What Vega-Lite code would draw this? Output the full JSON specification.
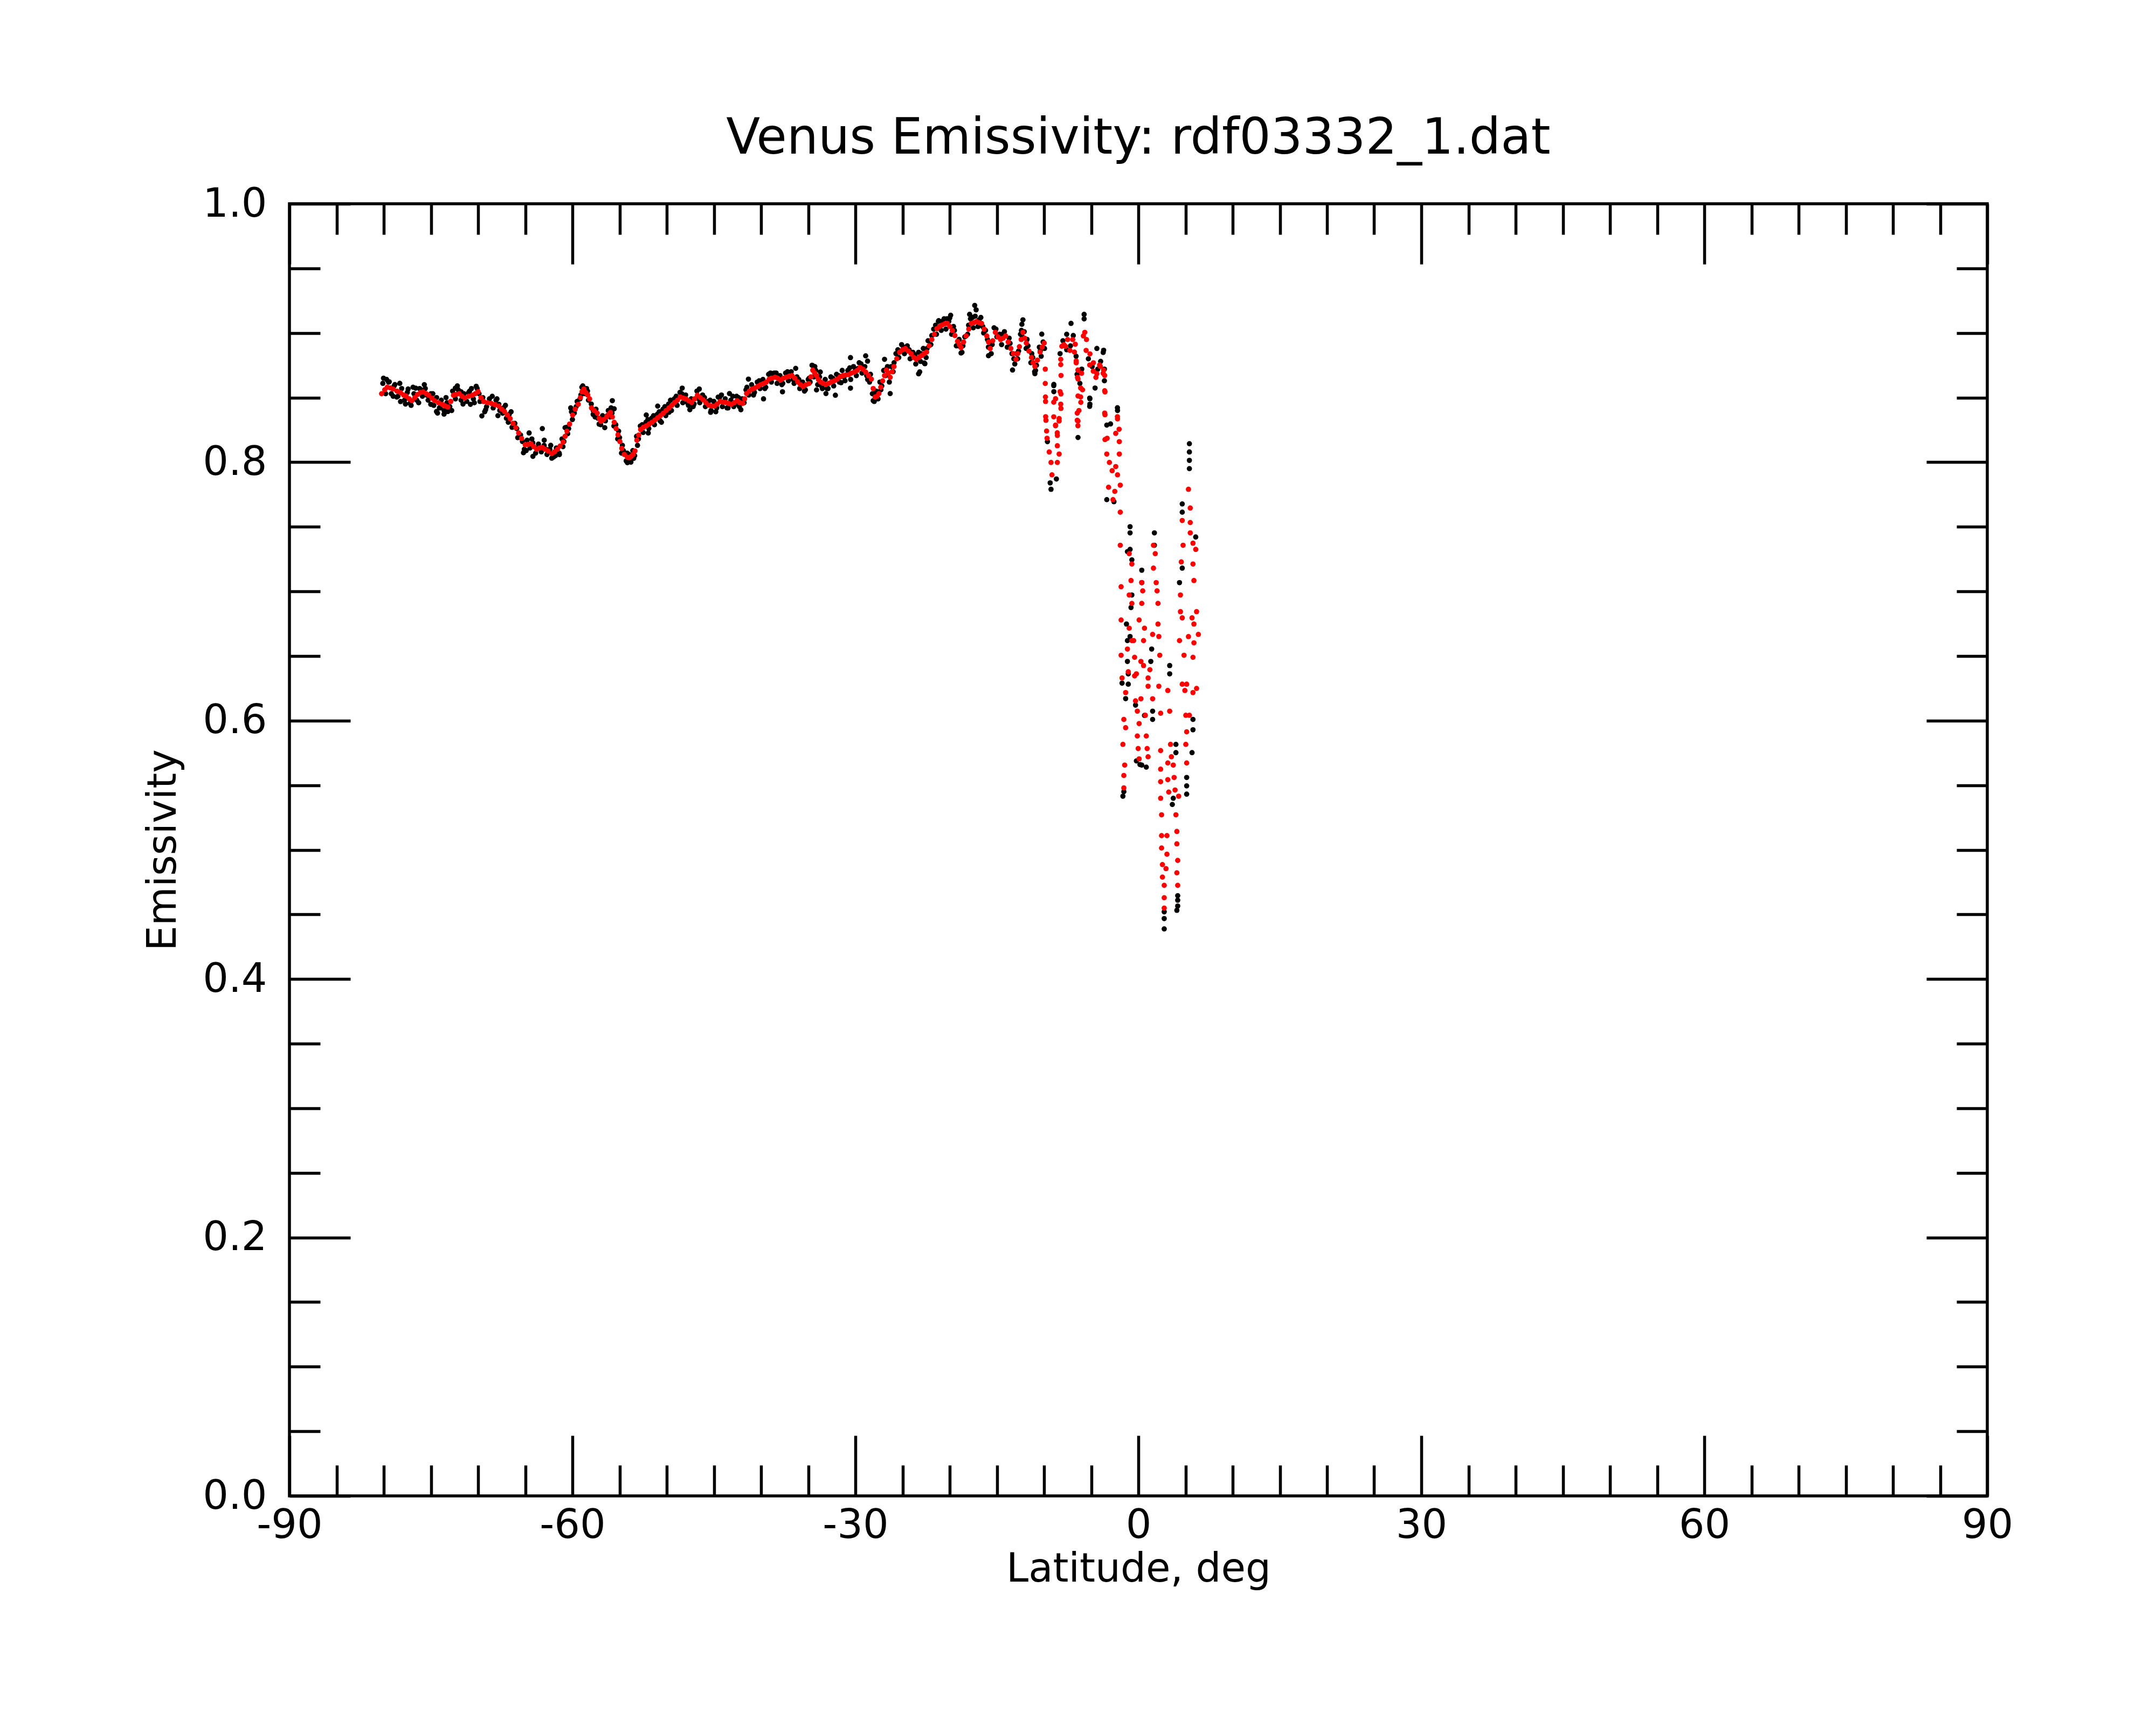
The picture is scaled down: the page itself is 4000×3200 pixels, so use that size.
{
  "$schema": "https://vega.github.io/schema/vega-lite/v6.json",
  "autosize": {"type": "none"},
  "padding": {"left": 537, "top": 378, "right": 313, "bottom": 425},
  "width": 3150,
  "height": 2397,
  "background": "white",
  "title": {
    "text": "Venus Emissivity: rdf03332_1.dat",
    "font": "DejaVu Sans",
    "fontSize": 92,
    "fontWeight": "normal",
    "color": "black",
    "anchor": "middle",
    "baseline": "alphabetic",
    "offset": -36
  },
  "datasets": {
    "black": [
      {"lat": -80.1, "emis": 0.861}, {"lat": -79.8, "emis": 0.853}, {"lat": -79.5, "emis": 0.862}, {"lat": -79.2, "emis": 0.853},
      {"lat": -78.9, "emis": 0.859}, {"lat": -78.5, "emis": 0.851}, {"lat": -78.1, "emis": 0.857}, {"lat": -77.8, "emis": 0.848},
      {"lat": -77.5, "emis": 0.854}, {"lat": -77.1, "emis": 0.844}, {"lat": -76.8, "emis": 0.853}, {"lat": -76.5, "emis": 0.848},
      {"lat": -76.2, "emis": 0.857}, {"lat": -75.9, "emis": 0.851}, {"lat": -75.6, "emis": 0.857}, {"lat": -75.3, "emis": 0.848},
      {"lat": -75.0, "emis": 0.853}, {"lat": -74.7, "emis": 0.844}, {"lat": -74.4, "emis": 0.85}, {"lat": -74.1, "emis": 0.842},
      {"lat": -73.9, "emis": 0.848}, {"lat": -73.6, "emis": 0.84}, {"lat": -73.3, "emis": 0.846}, {"lat": -73.0, "emis": 0.843},
      {"lat": -72.7, "emis": 0.855}, {"lat": -72.4, "emis": 0.849}, {"lat": -72.1, "emis": 0.856}, {"lat": -71.8, "emis": 0.848},
      {"lat": -71.5, "emis": 0.853}, {"lat": -71.2, "emis": 0.847}, {"lat": -70.9, "emis": 0.855}, {"lat": -70.5, "emis": 0.849},
      {"lat": -70.1, "emis": 0.857}, {"lat": -69.8, "emis": 0.847}, {"lat": -69.5, "emis": 0.85}, {"lat": -69.1, "emis": 0.843},
      {"lat": -68.8, "emis": 0.849}, {"lat": -68.4, "emis": 0.842}, {"lat": -68.1, "emis": 0.848}, {"lat": -67.7, "emis": 0.84},
      {"lat": -67.3, "emis": 0.842}, {"lat": -67.0, "emis": 0.834}, {"lat": -66.7, "emis": 0.837}, {"lat": -66.4, "emis": 0.827},
      {"lat": -66.1, "emis": 0.83}, {"lat": -65.8, "emis": 0.819}, {"lat": -65.5, "emis": 0.821}, {"lat": -65.1, "emis": 0.81},
      {"lat": -64.8, "emis": 0.817}, {"lat": -64.5, "emis": 0.811}, {"lat": -64.2, "emis": 0.815}, {"lat": -63.9, "emis": 0.807},
      {"lat": -63.6, "emis": 0.814}, {"lat": -63.3, "emis": 0.808}, {"lat": -63.0, "emis": 0.813}, {"lat": -62.7, "emis": 0.806},
      {"lat": -62.4, "emis": 0.81}, {"lat": -62.0, "emis": 0.804}, {"lat": -61.7, "emis": 0.811}, {"lat": -61.4, "emis": 0.807},
      {"lat": -61.1, "emis": 0.818}, {"lat": -60.9, "emis": 0.816}, {"lat": -60.6, "emis": 0.827}, {"lat": -60.4, "emis": 0.826},
      {"lat": -60.1, "emis": 0.839}, {"lat": -59.8, "emis": 0.838}, {"lat": -59.5, "emis": 0.847}, {"lat": -59.2, "emis": 0.849},
      {"lat": -59.0, "emis": 0.858}, {"lat": -58.7, "emis": 0.853}, {"lat": -58.5, "emis": 0.857}, {"lat": -58.3, "emis": 0.848},
      {"lat": -58.0, "emis": 0.845}, {"lat": -57.8, "emis": 0.837}, {"lat": -57.5, "emis": 0.841}, {"lat": -57.3, "emis": 0.834},
      {"lat": -57.0, "emis": 0.829}, {"lat": -56.8, "emis": 0.836}, {"lat": -56.5, "emis": 0.832}, {"lat": -56.2, "emis": 0.84},
      {"lat": -56.0, "emis": 0.835}, {"lat": -55.8, "emis": 0.838}, {"lat": -55.6, "emis": 0.828}, {"lat": -55.4, "emis": 0.829},
      {"lat": -55.2, "emis": 0.818}, {"lat": -55.0, "emis": 0.819}, {"lat": -54.8, "emis": 0.807}, {"lat": -54.6, "emis": 0.809},
      {"lat": -54.3, "emis": 0.801}, {"lat": -54.0, "emis": 0.806}, {"lat": -53.8, "emis": 0.8}, {"lat": -53.6, "emis": 0.809},
      {"lat": -53.4, "emis": 0.805}, {"lat": -53.2, "emis": 0.82}, {"lat": -53.0, "emis": 0.818}, {"lat": -52.8, "emis": 0.828},
      {"lat": -52.5, "emis": 0.823}, {"lat": -52.2, "emis": 0.831}, {"lat": -51.9, "emis": 0.826}, {"lat": -51.6, "emis": 0.834},
      {"lat": -51.3, "emis": 0.829}, {"lat": -51.0, "emis": 0.837}, {"lat": -50.7, "emis": 0.832}, {"lat": -50.4, "emis": 0.841},
      {"lat": -50.1, "emis": 0.836}, {"lat": -49.8, "emis": 0.845}, {"lat": -49.5, "emis": 0.84}, {"lat": -49.2, "emis": 0.849},
      {"lat": -48.9, "emis": 0.844}, {"lat": -48.6, "emis": 0.854}, {"lat": -48.3, "emis": 0.846}, {"lat": -48.0, "emis": 0.852},
      {"lat": -47.7, "emis": 0.844}, {"lat": -47.4, "emis": 0.849}, {"lat": -47.1, "emis": 0.845}, {"lat": -46.8, "emis": 0.855},
      {"lat": -46.5, "emis": 0.846}, {"lat": -46.2, "emis": 0.852}, {"lat": -45.9, "emis": 0.843}, {"lat": -45.6, "emis": 0.847},
      {"lat": -45.3, "emis": 0.84}, {"lat": -45.0, "emis": 0.847}, {"lat": -44.7, "emis": 0.842}, {"lat": -44.4, "emis": 0.85},
      {"lat": -44.1, "emis": 0.843}, {"lat": -43.8, "emis": 0.849}, {"lat": -43.5, "emis": 0.842}, {"lat": -43.2, "emis": 0.848},
      {"lat": -42.9, "emis": 0.843}, {"lat": -42.6, "emis": 0.851}, {"lat": -42.3, "emis": 0.843}, {"lat": -42.0, "emis": 0.849},
      {"lat": -41.8, "emis": 0.846}, {"lat": -41.6, "emis": 0.856}, {"lat": -41.3, "emis": 0.852}, {"lat": -41.0, "emis": 0.86},
      {"lat": -40.7, "emis": 0.854}, {"lat": -40.4, "emis": 0.862}, {"lat": -40.1, "emis": 0.857}, {"lat": -39.8, "emis": 0.864},
      {"lat": -39.5, "emis": 0.858}, {"lat": -39.2, "emis": 0.868}, {"lat": -38.9, "emis": 0.862}, {"lat": -38.6, "emis": 0.869},
      {"lat": -38.3, "emis": 0.861}, {"lat": -38.0, "emis": 0.867}, {"lat": -37.7, "emis": 0.861}, {"lat": -37.4, "emis": 0.869},
      {"lat": -37.1, "emis": 0.863}, {"lat": -36.8, "emis": 0.87}, {"lat": -36.5, "emis": 0.861}, {"lat": -36.2, "emis": 0.866},
      {"lat": -35.9, "emis": 0.857}, {"lat": -35.6, "emis": 0.862}, {"lat": -35.3, "emis": 0.856}, {"lat": -35.0, "emis": 0.864},
      {"lat": -34.8, "emis": 0.862}, {"lat": -34.6, "emis": 0.875}, {"lat": -34.4, "emis": 0.866}, {"lat": -34.2, "emis": 0.871},
      {"lat": -34.0, "emis": 0.86}, {"lat": -33.8, "emis": 0.866}, {"lat": -33.5, "emis": 0.857}, {"lat": -33.2, "emis": 0.864},
      {"lat": -32.9, "emis": 0.857}, {"lat": -32.6, "emis": 0.866}, {"lat": -32.3, "emis": 0.859}, {"lat": -32.0, "emis": 0.868},
      {"lat": -31.7, "emis": 0.862}, {"lat": -31.4, "emis": 0.871}, {"lat": -31.1, "emis": 0.863}, {"lat": -30.8, "emis": 0.871},
      {"lat": -30.5, "emis": 0.864}, {"lat": -30.2, "emis": 0.874}, {"lat": -29.9, "emis": 0.867}, {"lat": -29.6, "emis": 0.877},
      {"lat": -29.3, "emis": 0.869}, {"lat": -29.0, "emis": 0.874}, {"lat": -28.7, "emis": 0.864}, {"lat": -28.4, "emis": 0.868},
      {"lat": -28.2, "emis": 0.853}, {"lat": -28.0, "emis": 0.847}, {"lat": -27.8, "emis": 0.855}, {"lat": -27.6, "emis": 0.849},
      {"lat": -27.4, "emis": 0.862}, {"lat": -27.2, "emis": 0.859}, {"lat": -27.0, "emis": 0.871}, {"lat": -26.8, "emis": 0.867},
      {"lat": -26.6, "emis": 0.874}, {"lat": -26.4, "emis": 0.862}, {"lat": -26.2, "emis": 0.874}, {"lat": -26.0, "emis": 0.87},
      {"lat": -25.7, "emis": 0.884}, {"lat": -25.4, "emis": 0.881}, {"lat": -25.1, "emis": 0.891}, {"lat": -24.8, "emis": 0.884},
      {"lat": -24.5, "emis": 0.89}, {"lat": -24.2, "emis": 0.88}, {"lat": -23.9, "emis": 0.885}, {"lat": -23.6, "emis": 0.876},
      {"lat": -23.3, "emis": 0.885}, {"lat": -23.1, "emis": 0.878}, {"lat": -22.8, "emis": 0.888}, {"lat": -22.5, "emis": 0.881},
      {"lat": -22.3, "emis": 0.894}, {"lat": -22.0, "emis": 0.891}, {"lat": -21.7, "emis": 0.903}, {"lat": -21.4, "emis": 0.899},
      {"lat": -21.2, "emis": 0.909}, {"lat": -20.9, "emis": 0.902}, {"lat": -20.6, "emis": 0.911}, {"lat": -20.4, "emis": 0.903},
      {"lat": -20.1, "emis": 0.909}, {"lat": -19.8, "emis": 0.899}, {"lat": -19.5, "emis": 0.902}, {"lat": -19.3, "emis": 0.89},
      {"lat": -19.0, "emis": 0.895}, {"lat": -18.7, "emis": 0.885}, {"lat": -18.4, "emis": 0.897}, {"lat": -18.1, "emis": 0.899},
      {"lat": -17.8, "emis": 0.911}, {"lat": -17.5, "emis": 0.904}, {"lat": -17.3, "emis": 0.913}, {"lat": -17.0, "emis": 0.905},
      {"lat": -16.7, "emis": 0.912}, {"lat": -16.4, "emis": 0.9}, {"lat": -16.2, "emis": 0.902}, {"lat": -15.9, "emis": 0.889},
      {"lat": -15.6, "emis": 0.884}, {"lat": -15.3, "emis": 0.904}, {"lat": -15.0, "emis": 0.897}, {"lat": -14.7, "emis": 0.899},
      {"lat": -14.5, "emis": 0.891}, {"lat": -14.2, "emis": 0.901}, {"lat": -13.9, "emis": 0.889}, {"lat": -13.6, "emis": 0.892},
      {"lat": -13.4, "emis": 0.884}, {"lat": -13.1, "emis": 0.876}, {"lat": -12.9, "emis": 0.884}, {"lat": -12.7, "emis": 0.886},
      {"lat": -12.5, "emis": 0.899}, {"lat": -12.3, "emis": 0.897}, {"lat": -12.1, "emis": 0.901}, {"lat": -11.9, "emis": 0.888},
      {"lat": -11.7, "emis": 0.89}, {"lat": -11.4, "emis": 0.877}, {"lat": -11.2, "emis": 0.881}, {"lat": -11.0, "emis": 0.87},
      {"lat": -10.8, "emis": 0.875}, {"lat": -10.5, "emis": 0.889}, {"lat": -10.3, "emis": 0.882}, {"lat": -10.1, "emis": 0.893},
      {"lat": -9.95, "emis": 0.888},
      {"lat": -79.7, "emis": 0.864}, {"lat": -79.0, "emis": 0.851}, {"lat": -78.3, "emis": 0.861}, {"lat": -77.7, "emis": 0.845},
      {"lat": -76.9, "emis": 0.858}, {"lat": -76.3, "emis": 0.846}, {"lat": -75.7, "emis": 0.86}, {"lat": -74.8, "emis": 0.853},
      {"lat": -74.3, "emis": 0.838}, {"lat": -73.4, "emis": 0.85}, {"lat": -72.8, "emis": 0.84}, {"lat": -72.2, "emis": 0.859},
      {"lat": -71.6, "emis": 0.845}, {"lat": -70.7, "emis": 0.857}, {"lat": -70.4, "emis": 0.846}, {"lat": -69.9, "emis": 0.853},
      {"lat": -69.3, "emis": 0.839}, {"lat": -68.5, "emis": 0.851}, {"lat": -67.9, "emis": 0.836}, {"lat": -67.1, "emis": 0.844},
      {"lat": -66.5, "emis": 0.839}, {"lat": -65.9, "emis": 0.826}, {"lat": -65.3, "emis": 0.816}, {"lat": -64.9, "emis": 0.809},
      {"lat": -64.3, "emis": 0.818}, {"lat": -63.7, "emis": 0.811}, {"lat": -62.8, "emis": 0.81}, {"lat": -62.3, "emis": 0.813},
      {"lat": -61.8, "emis": 0.805}, {"lat": -61.0, "emis": 0.812}, {"lat": -60.5, "emis": 0.822}, {"lat": -60.0, "emis": 0.833},
      {"lat": -59.6, "emis": 0.843}, {"lat": -59.1, "emis": 0.852}, {"lat": -58.9, "emis": 0.859}, {"lat": -58.4, "emis": 0.855},
      {"lat": -57.6, "emis": 0.835}, {"lat": -56.9, "emis": 0.834}, {"lat": -56.3, "emis": 0.836}, {"lat": -55.9, "emis": 0.842},
      {"lat": -55.1, "emis": 0.824}, {"lat": -54.7, "emis": 0.813}, {"lat": -54.2, "emis": 0.807}, {"lat": -53.9, "emis": 0.801},
      {"lat": -53.5, "emis": 0.803}, {"lat": -53.1, "emis": 0.813}, {"lat": -52.6, "emis": 0.829}, {"lat": -52.0, "emis": 0.833},
      {"lat": -51.4, "emis": 0.836}, {"lat": -50.8, "emis": 0.839}, {"lat": -50.2, "emis": 0.843}, {"lat": -49.6, "emis": 0.848},
      {"lat": -49.0, "emis": 0.851}, {"lat": -48.4, "emis": 0.853}, {"lat": -47.8, "emis": 0.846}, {"lat": -47.2, "emis": 0.843},
      {"lat": -46.6, "emis": 0.849}, {"lat": -46.0, "emis": 0.85}, {"lat": -45.4, "emis": 0.848}, {"lat": -44.8, "emis": 0.839},
      {"lat": -44.2, "emis": 0.852}, {"lat": -43.6, "emis": 0.842}, {"lat": -43.0, "emis": 0.851}, {"lat": -42.4, "emis": 0.85},
      {"lat": -41.5, "emis": 0.858}, {"lat": -40.8, "emis": 0.852}, {"lat": -40.2, "emis": 0.863}, {"lat": -39.6, "emis": 0.857},
      {"lat": -39.0, "emis": 0.869}, {"lat": -38.4, "emis": 0.869}, {"lat": -37.8, "emis": 0.86}, {"lat": -37.2, "emis": 0.87},
      {"lat": -36.6, "emis": 0.864}, {"lat": -36.0, "emis": 0.864}, {"lat": -35.4, "emis": 0.855}, {"lat": -34.9, "emis": 0.865},
      {"lat": -34.3, "emis": 0.874}, {"lat": -33.6, "emis": 0.859}, {"lat": -33.0, "emis": 0.857}, {"lat": -32.4, "emis": 0.865},
      {"lat": -31.8, "emis": 0.867}, {"lat": -31.2, "emis": 0.866}, {"lat": -30.6, "emis": 0.873}, {"lat": -30.0, "emis": 0.872},
      {"lat": -29.4, "emis": 0.876}, {"lat": -28.8, "emis": 0.867}, {"lat": -28.5, "emis": 0.862}, {"lat": -27.9, "emis": 0.852},
      {"lat": -27.3, "emis": 0.856}, {"lat": -26.7, "emis": 0.872}, {"lat": -25.9, "emis": 0.877}, {"lat": -25.5, "emis": 0.887},
      {"lat": -24.9, "emis": 0.889}, {"lat": -24.3, "emis": 0.887}, {"lat": -23.7, "emis": 0.883}, {"lat": -23.0, "emis": 0.884},
      {"lat": -22.4, "emis": 0.888}, {"lat": -21.9, "emis": 0.898}, {"lat": -21.5, "emis": 0.906}, {"lat": -20.8, "emis": 0.909},
      {"lat": -20.3, "emis": 0.911}, {"lat": -19.6, "emis": 0.905}, {"lat": -19.1, "emis": 0.89}, {"lat": -18.6, "emis": 0.89},
      {"lat": -18.0, "emis": 0.906}, {"lat": -17.6, "emis": 0.912}, {"lat": -16.9, "emis": 0.91}, {"lat": -16.5, "emis": 0.905},
      {"lat": -16.0, "emis": 0.895}, {"lat": -15.5, "emis": 0.891}, {"lat": -15.1, "emis": 0.903}, {"lat": -14.4, "emis": 0.899},
      {"lat": -13.7, "emis": 0.896}, {"lat": -13.2, "emis": 0.88}, {"lat": -12.8, "emis": 0.88}, {"lat": -12.4, "emis": 0.902},
      {"lat": -11.8, "emis": 0.895}, {"lat": -11.3, "emis": 0.884}, {"lat": -10.9, "emis": 0.871}, {"lat": -10.4, "emis": 0.886},
      {"lat": -80.03, "emis": 0.865}, {"lat": -79.42, "emis": 0.8622}, {"lat": -78.82, "emis": 0.8601}, {"lat": -78.62, "emis": 0.8504},
      {"lat": -78.22, "emis": 0.8469}, {"lat": -77.42, "emis": 0.8566}, {"lat": -77.22, "emis": 0.8455}, {"lat": -76.62, "emis": 0.8573},
      {"lat": -76.02, "emis": 0.8559}, {"lat": -75.42, "emis": 0.8518}, {"lat": -75.02, "emis": 0.8448}, {"lat": -74.41, "emis": 0.8392},
      {"lat": -74.01, "emis": 0.842}, {"lat": -73.61, "emis": 0.8372}, {"lat": -73.21, "emis": 0.8392}, {"lat": -72.41, "emis": 0.8573},
      {"lat": -71.81, "emis": 0.8545}, {"lat": -71.01, "emis": 0.8538}, {"lat": -70.81, "emis": 0.8448}, {"lat": -70.2, "emis": 0.8587},
      {"lat": -69.6, "emis": 0.8358}, {"lat": -69.2, "emis": 0.8406}, {"lat": -68.0, "emis": 0.849}, {"lat": -67.8, "emis": 0.8448},
      {"lat": -67.4, "emis": 0.8379}, {"lat": -66.8, "emis": 0.8309}, {"lat": -65.59, "emis": 0.8212}, {"lat": -65.19, "emis": 0.8073},
      {"lat": -64.59, "emis": 0.8226}, {"lat": -64.19, "emis": 0.8045}, {"lat": -63.19, "emis": 0.826}, {"lat": -62.99, "emis": 0.817},
      {"lat": -62.19, "emis": 0.8031}, {"lat": -61.38, "emis": 0.8059}, {"lat": -60.78, "emis": 0.8267}, {"lat": -60.18, "emis": 0.842},
      {"lat": -58.78, "emis": 0.8573}, {"lat": -57.78, "emis": 0.8399}, {"lat": -57.17, "emis": 0.8295}, {"lat": -56.57, "emis": 0.8267},
      {"lat": -55.77, "emis": 0.8476}, {"lat": -55.57, "emis": 0.8413}, {"lat": -54.17, "emis": 0.7996}, {"lat": -53.77, "emis": 0.8017},
      {"lat": -52.17, "emis": 0.8365}, {"lat": -51.96, "emis": 0.8226}, {"lat": -50.96, "emis": 0.8434}, {"lat": -50.56, "emis": 0.8309},
      {"lat": -49.76, "emis": 0.8386}, {"lat": -48.36, "emis": 0.8573}, {"lat": -47.55, "emis": 0.8406}, {"lat": -46.55, "emis": 0.8566},
      {"lat": -45.35, "emis": 0.8386}, {"lat": -44.55, "emis": 0.8504}, {"lat": -43.35, "emis": 0.8531}, {"lat": -42.74, "emis": 0.8448},
      {"lat": -42.14, "emis": 0.8406}, {"lat": -41.34, "emis": 0.8643}, {"lat": -39.74, "emis": 0.849}, {"lat": -38.73, "emis": 0.8684},
      {"lat": -37.73, "emis": 0.8545}, {"lat": -36.33, "emis": 0.8726}, {"lat": -35.93, "emis": 0.8615}, {"lat": -34.52, "emis": 0.8747},
      {"lat": -34.12, "emis": 0.8559}, {"lat": -33.72, "emis": 0.8698}, {"lat": -33.12, "emis": 0.8531}, {"lat": -32.12, "emis": 0.8518},
      {"lat": -31.52, "emis": 0.8615}, {"lat": -30.52, "emis": 0.8809}, {"lat": -30.52, "emis": 0.8573}, {"lat": -29.71, "emis": 0.8726},
      {"lat": -28.91, "emis": 0.8823}, {"lat": -28.71, "emis": 0.8782}, {"lat": -28.11, "emis": 0.8476}, {"lat": -26.91, "emis": 0.8796},
      {"lat": -26.31, "emis": 0.8531}, {"lat": -23.3, "emis": 0.8684}, {"lat": -22.7, "emis": 0.8768},
      {"lat": -17.35, "emis": 0.9213}, {"lat": -17.2, "emis": 0.9179}, {"lat": -17.89, "emis": 0.9144}, {"lat": -19.9, "emis": 0.9137},
      {"lat": -20.0, "emis": 0.9116}, {"lat": -21.17, "emis": 0.9095}, {"lat": -12.24, "emis": 0.9102}, {"lat": -12.35, "emis": 0.9067},
      {"lat": -10.24, "emis": 0.8991}, {"lat": -7.14, "emis": 0.9074}, {"lat": -5.75, "emis": 0.9144}, {"lat": -5.75, "emis": 0.9109},
      {"lat": -4.4, "emis": 0.888}, {"lat": -3.68, "emis": 0.8866}, {"lat": -4.59, "emis": 0.8574}, {"lat": -5.14, "emis": 0.8491},
      {"lat": -5.14, "emis": 0.8449}, {"lat": -8.96, "emis": 0.8602}, {"lat": -8.96, "emis": 0.8546}, {"lat": -15.89, "emis": 0.8824},
      {"lat": -18.8, "emis": 0.8845}, {"lat": -13.34, "emis": 0.8713}, {"lat": -10.97, "emis": 0.8685}, {"lat": -23.18, "emis": 0.8699},
      {"lat": -22.63, "emis": 0.8762}, {"lat": -2.22, "emis": 0.8421}, {"lat": -2.95, "emis": 0.8296},
      {"lat": -8.0, "emis": 0.894}, {"lat": -7.6, "emis": 0.899}, {"lat": -7.2, "emis": 0.89}, {"lat": -6.9, "emis": 0.898},
      {"lat": -6.6, "emis": 0.882}, {"lat": -5.3, "emis": 0.88}, {"lat": -4.9, "emis": 0.874}, {"lat": -4.3, "emis": 0.872},
      {"lat": -4.0, "emis": 0.878}, {"lat": -3.6, "emis": 0.872}, {"lat": -3.6, "emis": 0.863}, {"lat": -6.5, "emis": 0.868},
      {"lat": -6.2, "emis": 0.861}, {"lat": -6.0, "emis": 0.872}, {"lat": -7.6, "emis": 0.887}, {"lat": -8.3, "emis": 0.884},
      {"lat": -9.64, "emis": 0.8159}, {"lat": -9.26, "emis": 0.779}, {"lat": -8.69, "emis": 0.787}, {"lat": -9.35, "emis": 0.784},
      {"lat": -8.97, "emis": 0.8592}, {"lat": -6.4, "emis": 0.8191}, {"lat": -5.16, "emis": 0.8496}, {"lat": -5.16, "emis": 0.8432},
      {"lat": -3.73, "emis": 0.8849}, {"lat": -3.35, "emis": 0.8287}, {"lat": -3.35, "emis": 0.771}, {"lat": -2.59, "emis": 0.7694},
      {"lat": -2.21, "emis": 0.84}, {"lat": -0.88, "emis": 0.7501}, {"lat": -0.88, "emis": 0.7453}, {"lat": -0.88, "emis": 0.7325},
      {"lat": -0.69, "emis": 0.7244}, {"lat": -0.69, "emis": 0.6972}, {"lat": -0.78, "emis": 0.6875}, {"lat": -1.26, "emis": 0.6747},
      {"lat": -1.16, "emis": 0.6619}, {"lat": -1.16, "emis": 0.6458}, {"lat": -1.07, "emis": 0.6362}, {"lat": -1.07, "emis": 0.6282},
      {"lat": -1.64, "emis": 0.5415}, {"lat": -0.21, "emis": 0.5688}, {"lat": 0.36, "emis": 0.7164}, {"lat": 0.36, "emis": 0.7068},
      {"lat": 1.41, "emis": 0.6554}, {"lat": 1.32, "emis": 0.6458}, {"lat": 1.51, "emis": 0.6073}, {"lat": 1.51, "emis": 0.6009},
      {"lat": 0.84, "emis": 0.564}, {"lat": 1.7, "emis": 0.7453}, {"lat": 1.7, "emis": 0.7357}, {"lat": 3.32, "emis": 0.6426},
      {"lat": 3.32, "emis": 0.6362}, {"lat": 3.98, "emis": 0.5816}, {"lat": 3.98, "emis": 0.5752}, {"lat": 3.7, "emis": 0.5399},
      {"lat": 3.6, "emis": 0.5351}, {"lat": 4.17, "emis": 0.4645}, {"lat": 4.17, "emis": 0.4565}, {"lat": 4.08, "emis": 0.4532},
      {"lat": 2.74, "emis": 0.4468}, {"lat": 2.74, "emis": 0.4388}, {"lat": 4.65, "emis": 0.7677}, {"lat": 4.65, "emis": 0.7613},
      {"lat": 4.36, "emis": 0.7068}, {"lat": 4.65, "emis": 0.718}, {"lat": 5.41, "emis": 0.8143}, {"lat": 5.41, "emis": 0.8079},
      {"lat": 5.41, "emis": 0.8014}, {"lat": 5.41, "emis": 0.795}, {"lat": 6.08, "emis": 0.7421}, {"lat": 5.79, "emis": 0.6009},
      {"lat": 5.79, "emis": 0.5929}, {"lat": 5.69, "emis": 0.5752}, {"lat": 5.12, "emis": 0.556}, {"lat": 5.12, "emis": 0.5495},
      {"lat": 5.12, "emis": 0.5431}, {"lat": -1.16, "emis": 0.7308}, {"lat": -0.88, "emis": 0.6651}, {"lat": 0.36, "emis": 0.5656},
      {"lat": -1.54, "emis": 0.545}, {"lat": 0.17, "emis": 0.566}, {"lat": 2.74, "emis": 0.452}, {"lat": 4.17, "emis": 0.461},
      {"lat": -1.73, "emis": 0.629}, {"lat": -1.35, "emis": 0.617}, {"lat": -0.3, "emis": 0.612}, {"lat": 0.65, "emis": 0.604}
    ],
    "red": [
      {"lat": -80.23, "emis": 0.853}, {"lat": -79.9, "emis": 0.856}, {"lat": -79.63, "emis": 0.858}, {"lat": -79.3, "emis": 0.8575},
      {"lat": -79.02, "emis": 0.8566}, {"lat": -78.6, "emis": 0.855}, {"lat": -78.22, "emis": 0.8538}, {"lat": -77.9, "emis": 0.852},
      {"lat": -77.62, "emis": 0.8511}, {"lat": -77.3, "emis": 0.849}, {"lat": -77.02, "emis": 0.8476}, {"lat": -76.7, "emis": 0.85},
      {"lat": -76.42, "emis": 0.8524}, {"lat": -76.1, "emis": 0.854}, {"lat": -75.82, "emis": 0.8543}, {"lat": -75.5, "emis": 0.853},
      {"lat": -75.22, "emis": 0.8518}, {"lat": -74.9, "emis": 0.8495}, {"lat": -74.61, "emis": 0.8476}, {"lat": -74.2, "emis": 0.846},
      {"lat": -73.81, "emis": 0.8448}, {"lat": -73.5, "emis": 0.8435}, {"lat": -73.21, "emis": 0.8427}, {"lat": -72.9, "emis": 0.847},
      {"lat": -72.61, "emis": 0.8518}, {"lat": -72.3, "emis": 0.8525}, {"lat": -72.01, "emis": 0.8531}, {"lat": -71.7, "emis": 0.851},
      {"lat": -71.41, "emis": 0.8497}, {"lat": -71.0, "emis": 0.851}, {"lat": -70.61, "emis": 0.8518}, {"lat": -70.3, "emis": 0.853},
      {"lat": -70.0, "emis": 0.8545}, {"lat": -69.7, "emis": 0.85}, {"lat": -69.4, "emis": 0.8469}, {"lat": -69.0, "emis": 0.846},
      {"lat": -68.6, "emis": 0.8455}, {"lat": -68.2, "emis": 0.8445}, {"lat": -67.8, "emis": 0.8434}, {"lat": -67.5, "emis": 0.841},
      {"lat": -67.2, "emis": 0.8392}, {"lat": -66.9, "emis": 0.8365}, {"lat": -66.6, "emis": 0.8337}, {"lat": -66.3, "emis": 0.83},
      {"lat": -66.0, "emis": 0.8267}, {"lat": -65.7, "emis": 0.8226}, {"lat": -65.39, "emis": 0.8184}, {"lat": -65.0, "emis": 0.8135},
      {"lat": -64.7, "emis": 0.8138}, {"lat": -64.39, "emis": 0.8142}, {"lat": -64.1, "emis": 0.812}, {"lat": -63.79, "emis": 0.81},
      {"lat": -63.5, "emis": 0.811}, {"lat": -63.19, "emis": 0.8114}, {"lat": -62.9, "emis": 0.81}, {"lat": -62.59, "emis": 0.8087},
      {"lat": -62.19, "emis": 0.8066}, {"lat": -61.9, "emis": 0.808}, {"lat": -61.59, "emis": 0.81}, {"lat": -61.3, "emis": 0.8125},
      {"lat": -60.98, "emis": 0.8156}, {"lat": -60.78, "emis": 0.82}, {"lat": -60.58, "emis": 0.824}, {"lat": -60.3, "emis": 0.8295},
      {"lat": -59.98, "emis": 0.8365}, {"lat": -59.7, "emis": 0.841}, {"lat": -59.38, "emis": 0.8448}, {"lat": -59.15, "emis": 0.85},
      {"lat": -58.98, "emis": 0.8545}, {"lat": -58.78, "emis": 0.8566}, {"lat": -58.58, "emis": 0.8538}, {"lat": -58.38, "emis": 0.852},
      {"lat": -58.18, "emis": 0.849}, {"lat": -57.98, "emis": 0.842}, {"lat": -57.7, "emis": 0.84}, {"lat": -57.37, "emis": 0.8379},
      {"lat": -57.17, "emis": 0.834}, {"lat": -56.97, "emis": 0.8316}, {"lat": -56.7, "emis": 0.833}, {"lat": -56.37, "emis": 0.8351},
      {"lat": -56.15, "emis": 0.837}, {"lat": -55.97, "emis": 0.8385}, {"lat": -55.77, "emis": 0.835}, {"lat": -55.57, "emis": 0.8309},
      {"lat": -55.37, "emis": 0.826}, {"lat": -55.17, "emis": 0.8212}, {"lat": -54.97, "emis": 0.816}, {"lat": -54.77, "emis": 0.8107},
      {"lat": -54.5, "emis": 0.806}, {"lat": -54.17, "emis": 0.8038}, {"lat": -53.97, "emis": 0.8035}, {"lat": -53.77, "emis": 0.8045},
      {"lat": -53.57, "emis": 0.806}, {"lat": -53.37, "emis": 0.8087}, {"lat": -53.17, "emis": 0.817}, {"lat": -52.97, "emis": 0.821},
      {"lat": -52.77, "emis": 0.8253}, {"lat": -52.47, "emis": 0.827}, {"lat": -52.17, "emis": 0.8281}, {"lat": -51.86, "emis": 0.8295},
      {"lat": -51.56, "emis": 0.8309}, {"lat": -51.26, "emis": 0.8325}, {"lat": -50.96, "emis": 0.8344}, {"lat": -50.66, "emis": 0.836},
      {"lat": -50.36, "emis": 0.8379}, {"lat": -50.06, "emis": 0.84}, {"lat": -49.76, "emis": 0.842}, {"lat": -49.46, "emis": 0.844},
      {"lat": -49.16, "emis": 0.8462}, {"lat": -48.86, "emis": 0.848}, {"lat": -48.56, "emis": 0.8504}, {"lat": -48.26, "emis": 0.8497},
      {"lat": -47.96, "emis": 0.849}, {"lat": -47.66, "emis": 0.8475}, {"lat": -47.36, "emis": 0.8462}, {"lat": -47.05, "emis": 0.849},
      {"lat": -46.75, "emis": 0.8518}, {"lat": -46.45, "emis": 0.85}, {"lat": -46.15, "emis": 0.8483}, {"lat": -45.85, "emis": 0.846},
      {"lat": -45.55, "emis": 0.8441}, {"lat": -45.25, "emis": 0.8435}, {"lat": -44.95, "emis": 0.8434}, {"lat": -44.65, "emis": 0.845},
      {"lat": -44.35, "emis": 0.8469}, {"lat": -44.05, "emis": 0.8465}, {"lat": -43.75, "emis": 0.8462}, {"lat": -43.45, "emis": 0.8455},
      {"lat": -43.15, "emis": 0.8448}, {"lat": -42.85, "emis": 0.846}, {"lat": -42.54, "emis": 0.8476}, {"lat": -42.24, "emis": 0.846},
      {"lat": -41.94, "emis": 0.8455}, {"lat": -41.74, "emis": 0.849}, {"lat": -41.54, "emis": 0.8531}, {"lat": -41.24, "emis": 0.855},
      {"lat": -40.94, "emis": 0.8566}, {"lat": -40.64, "emis": 0.8575}, {"lat": -40.34, "emis": 0.8587}, {"lat": -40.04, "emis": 0.86},
      {"lat": -39.74, "emis": 0.8608}, {"lat": -39.44, "emis": 0.862}, {"lat": -39.14, "emis": 0.8643}, {"lat": -38.84, "emis": 0.865},
      {"lat": -38.53, "emis": 0.8657}, {"lat": -38.23, "emis": 0.865}, {"lat": -37.93, "emis": 0.8636}, {"lat": -37.63, "emis": 0.865},
      {"lat": -37.33, "emis": 0.8657}, {"lat": -37.03, "emis": 0.8665}, {"lat": -36.73, "emis": 0.867}, {"lat": -36.43, "emis": 0.865},
      {"lat": -36.13, "emis": 0.8622}, {"lat": -35.83, "emis": 0.86}, {"lat": -35.53, "emis": 0.8587}, {"lat": -35.23, "emis": 0.86},
      {"lat": -34.93, "emis": 0.8608}, {"lat": -34.72, "emis": 0.866}, {"lat": -34.52, "emis": 0.8712}, {"lat": -34.32, "emis": 0.869},
      {"lat": -34.12, "emis": 0.867}, {"lat": -33.92, "emis": 0.864}, {"lat": -33.72, "emis": 0.8622}, {"lat": -33.42, "emis": 0.861},
      {"lat": -33.12, "emis": 0.8601}, {"lat": -32.82, "emis": 0.861}, {"lat": -32.52, "emis": 0.8622}, {"lat": -32.22, "emis": 0.863},
      {"lat": -31.92, "emis": 0.8643}, {"lat": -31.62, "emis": 0.866}, {"lat": -31.32, "emis": 0.867}, {"lat": -31.02, "emis": 0.8675},
      {"lat": -30.72, "emis": 0.8677}, {"lat": -30.42, "emis": 0.869}, {"lat": -30.11, "emis": 0.8698}, {"lat": -29.81, "emis": 0.871},
      {"lat": -29.51, "emis": 0.8733}, {"lat": -29.21, "emis": 0.872}, {"lat": -28.91, "emis": 0.8698}, {"lat": -28.61, "emis": 0.867},
      {"lat": -28.31, "emis": 0.8643}, {"lat": -28.11, "emis": 0.857}, {"lat": -27.91, "emis": 0.8504}, {"lat": -27.71, "emis": 0.851},
      {"lat": -27.51, "emis": 0.8531}, {"lat": -27.31, "emis": 0.858}, {"lat": -27.11, "emis": 0.8629}, {"lat": -26.91, "emis": 0.867},
      {"lat": -26.71, "emis": 0.8712}, {"lat": -26.51, "emis": 0.869}, {"lat": -26.31, "emis": 0.8657}, {"lat": -26.11, "emis": 0.87},
      {"lat": -25.91, "emis": 0.874}, {"lat": -25.61, "emis": 0.88}, {"lat": -25.31, "emis": 0.8851}, {"lat": -25.0, "emis": 0.887},
      {"lat": -24.7, "emis": 0.8879}, {"lat": -24.4, "emis": 0.886}, {"lat": -24.1, "emis": 0.884}, {"lat": -23.8, "emis": 0.881},
      {"lat": -23.54, "emis": 0.8796}, {"lat": -23.27, "emis": 0.881}, {"lat": -23.0, "emis": 0.8824}, {"lat": -22.72, "emis": 0.884},
      {"lat": -22.45, "emis": 0.8852}, {"lat": -22.18, "emis": 0.89}, {"lat": -21.9, "emis": 0.8949}, {"lat": -21.63, "emis": 0.899},
      {"lat": -21.36, "emis": 0.9033}, {"lat": -21.08, "emis": 0.905}, {"lat": -20.81, "emis": 0.9061}, {"lat": -20.54, "emis": 0.907},
      {"lat": -20.26, "emis": 0.9074}, {"lat": -19.99, "emis": 0.905}, {"lat": -19.72, "emis": 0.9019}, {"lat": -19.45, "emis": 0.898},
      {"lat": -19.17, "emis": 0.8935}, {"lat": -18.98, "emis": 0.891}, {"lat": -18.8, "emis": 0.8887}, {"lat": -18.53, "emis": 0.893},
      {"lat": -18.26, "emis": 0.8977}, {"lat": -17.98, "emis": 0.903}, {"lat": -17.71, "emis": 0.9074}, {"lat": -17.44, "emis": 0.908},
      {"lat": -17.17, "emis": 0.9088}, {"lat": -16.9, "emis": 0.908}, {"lat": -16.62, "emis": 0.9074}, {"lat": -16.35, "emis": 0.903},
      {"lat": -16.07, "emis": 0.8977}, {"lat": -15.89, "emis": 0.893}, {"lat": -15.71, "emis": 0.888}, {"lat": -15.44, "emis": 0.894},
      {"lat": -15.16, "emis": 0.9005}, {"lat": -14.89, "emis": 0.897}, {"lat": -14.61, "emis": 0.8949}, {"lat": -14.34, "emis": 0.896},
      {"lat": -14.07, "emis": 0.8977}, {"lat": -13.8, "emis": 0.893}, {"lat": -13.52, "emis": 0.888}, {"lat": -13.25, "emis": 0.884},
      {"lat": -12.97, "emis": 0.8796}, {"lat": -12.79, "emis": 0.884}, {"lat": -12.61, "emis": 0.8894}, {"lat": -12.42, "emis": 0.895},
      {"lat": -12.24, "emis": 0.9005}, {"lat": -12.06, "emis": 0.896}, {"lat": -11.88, "emis": 0.8922}, {"lat": -11.6, "emis": 0.886},
      {"lat": -11.33, "emis": 0.881}, {"lat": -11.15, "emis": 0.877}, {"lat": -10.97, "emis": 0.8741}, {"lat": -10.7, "emis": 0.879},
      {"lat": -10.42, "emis": 0.8852}, {"lat": -10.2, "emis": 0.889}, {"lat": -9.98, "emis": 0.8922},
      {"lat": -9.87, "emis": 0.872}, {"lat": -9.87, "emis": 0.8609}, {"lat": -9.85, "emis": 0.8505}, {"lat": -9.84, "emis": 0.847},
      {"lat": -9.83, "emis": 0.8352}, {"lat": -9.8, "emis": 0.8324}, {"lat": -9.73, "emis": 0.8241}, {"lat": -9.68, "emis": 0.8185},
      {"lat": -9.45, "emis": 0.8079}, {"lat": -9.26, "emis": 0.7998}, {"lat": -9.16, "emis": 0.7902}, {"lat": -8.97, "emis": 0.8464},
      {"lat": -8.97, "emis": 0.8351}, {"lat": -8.78, "emis": 0.8287}, {"lat": -8.59, "emis": 0.8207}, {"lat": -8.59, "emis": 0.8127},
      {"lat": -8.59, "emis": 0.7998}, {"lat": -8.4, "emis": 0.8063}, {"lat": -8.4, "emis": 0.8319}, {"lat": -8.21, "emis": 0.8528},
      {"lat": -8.21, "emis": 0.8416}, {"lat": -8.23, "emis": 0.8796}, {"lat": -8.23, "emis": 0.8755}, {"lat": -8.2, "emis": 0.8671},
      {"lat": -8.3, "emis": 0.8546}, {"lat": -8.78, "emis": 0.8491}, {"lat": -8.23, "emis": 0.8449}, {"lat": -8.4, "emis": 0.8338},
      {"lat": -8.78, "emis": 0.8282}, {"lat": -8.6, "emis": 0.8227},
      {"lat": -8.11, "emis": 0.8897}, {"lat": -7.9, "emis": 0.891}, {"lat": -7.73, "emis": 0.8897}, {"lat": -7.5, "emis": 0.8949},
      {"lat": -7.26, "emis": 0.8865}, {"lat": -6.96, "emis": 0.8949}, {"lat": -6.78, "emis": 0.8852}, {"lat": -6.69, "emis": 0.8913},
      {"lat": -6.59, "emis": 0.8783}, {"lat": -6.59, "emis": 0.8769}, {"lat": -6.41, "emis": 0.8713}, {"lat": -6.45, "emis": 0.8656},
      {"lat": -6.4, "emis": 0.8644}, {"lat": -6.4, "emis": 0.8512}, {"lat": -6.12, "emis": 0.8574}, {"lat": -6.12, "emis": 0.8505},
      {"lat": -6.1, "emis": 0.8463}, {"lat": -6.3, "emis": 0.84}, {"lat": -6.48, "emis": 0.838}, {"lat": -6.48, "emis": 0.8324},
      {"lat": -6.4, "emis": 0.8319}, {"lat": -6.41, "emis": 0.8282}, {"lat": -6.02, "emis": 0.8688}, {"lat": -5.92, "emis": 0.856},
      {"lat": -5.83, "emis": 0.8977}, {"lat": -5.68, "emis": 0.9005}, {"lat": -5.54, "emis": 0.8865}, {"lat": -5.5, "emis": 0.8949},
      {"lat": -5.16, "emis": 0.8752}, {"lat": -5.135, "emis": 0.8838}, {"lat": -4.78, "emis": 0.8704}, {"lat": -4.77, "emis": 0.8769},
      {"lat": -4.5, "emis": 0.8656}, {"lat": -4.4, "emis": 0.8685}, {"lat": -4.11, "emis": 0.8752}, {"lat": -4.04, "emis": 0.8741},
      {"lat": -3.73, "emis": 0.8688}, {"lat": -3.68, "emis": 0.8713}, {"lat": -3.57, "emis": 0.8671}, {"lat": -3.54, "emis": 0.8544},
      {"lat": -3.57, "emis": 0.8553}, {"lat": -3.54, "emis": 0.8367}, {"lat": -3.57, "emis": 0.838},
      {"lat": -2.21, "emis": 0.8335}, {"lat": -2.4, "emis": 0.8223}, {"lat": -2.02, "emis": 0.8159}, {"lat": -3.54, "emis": 0.8175},
      {"lat": -3.35, "emis": 0.8063}, {"lat": -3.07, "emis": 0.7998}, {"lat": -2.78, "emis": 0.7934}, {"lat": -2.4, "emis": 0.7966},
      {"lat": -2.02, "emis": 0.8063}, {"lat": -2.21, "emis": 0.7902}, {"lat": -3.16, "emis": 0.7806}, {"lat": -2.5, "emis": 0.7774},
      {"lat": -2.69, "emis": 0.771}, {"lat": -1.92, "emis": 0.7822}, {"lat": -1.92, "emis": 0.7613}, {"lat": -2.22, "emis": 0.8352},
      {"lat": -2.04, "emis": 0.8255}, {"lat": -3.31, "emis": 0.8185},
      {"lat": -1.92, "emis": 0.7357}, {"lat": -1.83, "emis": 0.7036}, {"lat": -1.83, "emis": 0.6779}, {"lat": -1.83, "emis": 0.6506},
      {"lat": -1.73, "emis": 0.633}, {"lat": -1.35, "emis": 0.6217}, {"lat": -1.54, "emis": 0.6009}, {"lat": -1.35, "emis": 0.5945},
      {"lat": -1.64, "emis": 0.5816}, {"lat": -1.45, "emis": 0.5656}, {"lat": -1.54, "emis": 0.5575}, {"lat": -1.54, "emis": 0.5479},
      {"lat": -0.97, "emis": 0.7292}, {"lat": -0.69, "emis": 0.7212}, {"lat": -0.78, "emis": 0.7084}, {"lat": -0.97, "emis": 0.6972},
      {"lat": -0.69, "emis": 0.6907}, {"lat": -0.97, "emis": 0.6715}, {"lat": -0.69, "emis": 0.6619}, {"lat": -0.5, "emis": 0.6619},
      {"lat": -1.16, "emis": 0.6554}, {"lat": -0.4, "emis": 0.649}, {"lat": -1.07, "emis": 0.6378}, {"lat": -0.4, "emis": 0.6346},
      {"lat": -0.21, "emis": 0.6362},
      {"lat": -0.3, "emis": 0.6153}, {"lat": -0.11, "emis": 0.6073}, {"lat": 0.08, "emis": 0.5977}, {"lat": -0.11, "emis": 0.5881},
      {"lat": -0.02, "emis": 0.5784}, {"lat": 0.08, "emis": 0.5704}, {"lat": 0.27, "emis": 0.6169}, {"lat": 0.27, "emis": 0.6458},
      {"lat": 0.55, "emis": 0.6426}, {"lat": 0.36, "emis": 0.6907}, {"lat": 0.46, "emis": 0.7004}, {"lat": 0.36, "emis": 0.7068},
      {"lat": 0.08, "emis": 0.6779}, {"lat": 0.65, "emis": 0.6715}, {"lat": 0.55, "emis": 0.6619}, {"lat": 1.03, "emis": 0.633},
      {"lat": 1.03, "emis": 0.6266}, {"lat": 0.74, "emis": 0.6041}, {"lat": 0.84, "emis": 0.5881}, {"lat": 0.93, "emis": 0.5784},
      {"lat": 1.03, "emis": 0.572},
      {"lat": 1.6, "emis": 0.7357}, {"lat": 1.79, "emis": 0.7292}, {"lat": 1.6, "emis": 0.718}, {"lat": 1.89, "emis": 0.7068},
      {"lat": 1.98, "emis": 0.7004}, {"lat": 2.08, "emis": 0.6907}, {"lat": 2.08, "emis": 0.6747}, {"lat": 2.17, "emis": 0.6651},
      {"lat": 1.51, "emis": 0.6667}, {"lat": 2.27, "emis": 0.6506}, {"lat": 2.17, "emis": 0.6266}, {"lat": 1.22, "emis": 0.6394},
      {"lat": 1.51, "emis": 0.6169},
      {"lat": 2.36, "emis": 0.6057}, {"lat": 2.36, "emis": 0.5768}, {"lat": 2.36, "emis": 0.5624}, {"lat": 2.36, "emis": 0.5527},
      {"lat": 2.36, "emis": 0.5399}, {"lat": 2.46, "emis": 0.5271}, {"lat": 2.46, "emis": 0.511}, {"lat": 2.46, "emis": 0.5014},
      {"lat": 2.55, "emis": 0.4886}, {"lat": 2.55, "emis": 0.4789}, {"lat": 2.74, "emis": 0.4725}, {"lat": 2.74, "emis": 0.4629},
      {"lat": 2.74, "emis": 0.4549}, {"lat": 3.03, "emis": 0.511}, {"lat": 3.03, "emis": 0.4966}, {"lat": 2.93, "emis": 0.4854},
      {"lat": 3.12, "emis": 0.6233}, {"lat": 3.32, "emis": 0.6073}, {"lat": 3.41, "emis": 0.5816}, {"lat": 3.12, "emis": 0.5672},
      {"lat": 3.12, "emis": 0.5543}, {"lat": 3.22, "emis": 0.5447}, {"lat": 3.5, "emis": 0.572}, {"lat": 3.7, "emis": 0.5656},
      {"lat": 3.79, "emis": 0.556}, {"lat": 3.89, "emis": 0.5463}, {"lat": 3.98, "emis": 0.5271}, {"lat": 4.08, "emis": 0.5142},
      {"lat": 4.08, "emis": 0.5046}, {"lat": 4.17, "emis": 0.4918}, {"lat": 4.08, "emis": 0.4822}, {"lat": 4.17, "emis": 0.4725},
      {"lat": 4.27, "emis": 0.5415},
      {"lat": 4.65, "emis": 0.7549}, {"lat": 4.74, "emis": 0.7357}, {"lat": 4.55, "emis": 0.7228}, {"lat": 4.46, "emis": 0.6972},
      {"lat": 4.46, "emis": 0.6843}, {"lat": 4.65, "emis": 0.6795}, {"lat": 4.36, "emis": 0.6619}, {"lat": 4.65, "emis": 0.6282},
      {"lat": 4.93, "emis": 0.6233}, {"lat": 5.03, "emis": 0.6041}, {"lat": 5.12, "emis": 0.5913}, {"lat": 5.03, "emis": 0.5816},
      {"lat": 5.12, "emis": 0.5672}, {"lat": 5.31, "emis": 0.779}, {"lat": 5.5, "emis": 0.7645}, {"lat": 5.5, "emis": 0.7533},
      {"lat": 5.5, "emis": 0.7453}, {"lat": 5.79, "emis": 0.7373}, {"lat": 6.08, "emis": 0.7325}, {"lat": 5.79, "emis": 0.7212},
      {"lat": 5.89, "emis": 0.7084}, {"lat": 6.17, "emis": 0.6843}, {"lat": 5.69, "emis": 0.6795}, {"lat": 5.89, "emis": 0.6747},
      {"lat": 5.31, "emis": 0.665}, {"lat": 6.36, "emis": 0.6667}, {"lat": 5.89, "emis": 0.6602}, {"lat": 5.79, "emis": 0.649},
      {"lat": 4.84, "emis": 0.6506}, {"lat": 5.12, "emis": 0.6282}, {"lat": 6.17, "emis": 0.6249}, {"lat": 5.79, "emis": 0.6217},
      {"lat": 5.41, "emis": 0.6041}
    ]
  },
  "layer": [
    {
      "data": {"name": "black"},
      "mark": {"type": "circle", "color": "black", "opacity": 1, "size": 95},
      "encoding": {
        "x": {
          "field": "lat",
          "type": "quantitative",
          "scale": {"domain": [-90, 90], "nice": false, "zero": false},
          "axis": {
            "orient": "bottom",
            "values": [-90, -60, -30, 0, 30, 60, 90],
            "tickSize": -112,
            "labelExpr": "'' + datum.value",
            "labelFontSize": 75,
            "labelPadding": 130,
            "labelFlush": false,
            "labelOverlap": false,
            "title": "Latitude, deg",
            "titleFontSize": 74,
            "titleFontWeight": "normal",
            "titlePadding": 8
          }
        },
        "y": {
          "field": "emis",
          "type": "quantitative",
          "scale": {"domain": [0, 1], "nice": false, "zero": false},
          "axis": {
            "orient": "left",
            "values": [0, 0.2, 0.4, 0.6, 0.8, 1.0],
            "tickSize": -113,
            "format": ".1f",
            "labelFontSize": 75,
            "labelPadding": 155,
            "labelFlush": false,
            "labelOverlap": false,
            "title": "Emissivity",
            "titleFontSize": 74,
            "titleFontWeight": "normal",
            "titlePadding": 34
          }
        }
      }
    },
    {
      "data": {"name": "red"},
      "mark": {"type": "circle", "color": "#ff0000", "opacity": 1, "size": 95},
      "encoding": {
        "x": {
          "field": "lat",
          "type": "quantitative",
          "scale": {"domain": [-90, 90], "nice": false, "zero": false},
          "axis": {
            "orient": "bottom",
            "values": [-85, -80, -75, -70, -65, -55, -50, -45, -40, -35, -25, -20, -15, -10, -5, 5, 10, 15, 20, 25, 35, 40, 45, 50, 55, 65, 70, 75, 80, 85],
            "tickSize": -57,
            "labels": false,
            "title": null
          }
        },
        "y": {
          "field": "emis",
          "type": "quantitative",
          "scale": {"domain": [0, 1], "nice": false, "zero": false},
          "axis": {
            "orient": "left",
            "values": [0.05, 0.1, 0.15, 0.25, 0.3, 0.35, 0.45, 0.5, 0.55, 0.65, 0.7, 0.75, 0.85, 0.9, 0.95],
            "tickSize": -57,
            "labels": false,
            "title": null
          }
        }
      }
    },
    {
      "data": {"name": "red"},
      "mark": {"type": "circle", "opacity": 0},
      "encoding": {
        "x": {
          "field": "lat",
          "type": "quantitative",
          "scale": {"domain": [-90, 90], "nice": false, "zero": false},
          "axis": {
            "orient": "top",
            "values": [-90, -60, -30, 0, 30, 60, 90],
            "tickSize": -112,
            "labels": false,
            "title": null
          }
        },
        "y": {
          "field": "emis",
          "type": "quantitative",
          "scale": {"domain": [0, 1], "nice": false, "zero": false},
          "axis": {
            "orient": "right",
            "values": [0, 0.2, 0.4, 0.6, 0.8, 1.0],
            "tickSize": -113,
            "labels": false,
            "title": null
          }
        }
      }
    },
    {
      "data": {"name": "red"},
      "mark": {"type": "circle", "opacity": 0},
      "encoding": {
        "x": {
          "field": "lat",
          "type": "quantitative",
          "scale": {"domain": [-90, 90], "nice": false, "zero": false},
          "axis": {
            "orient": "top",
            "values": [-85, -80, -75, -70, -65, -55, -50, -45, -40, -35, -25, -20, -15, -10, -5, 5, 10, 15, 20, 25, 35, 40, 45, 50, 55, 65, 70, 75, 80, 85],
            "tickSize": -57,
            "labels": false,
            "title": null
          }
        },
        "y": {
          "field": "emis",
          "type": "quantitative",
          "scale": {"domain": [0, 1], "nice": false, "zero": false},
          "axis": {
            "orient": "right",
            "values": [0.05, 0.1, 0.15, 0.25, 0.3, 0.35, 0.45, 0.5, 0.55, 0.65, 0.7, 0.75, 0.85, 0.9, 0.95],
            "tickSize": -57,
            "labels": false,
            "title": null
          }
        }
      }
    }
  ],
  "resolve": {"axis": {"x": "independent", "y": "independent"}},
  "config": {
    "view": {"stroke": "black", "strokeWidth": 5.5},
    "axis": {
      "grid": false,
      "domain": false,
      "ticks": true,
      "tickColor": "black",
      "tickWidth": 5.5,
      "labelFont": "DejaVu Sans",
      "labelColor": "black",
      "titleFont": "DejaVu Sans",
      "titleColor": "black"
    }
  }
}
